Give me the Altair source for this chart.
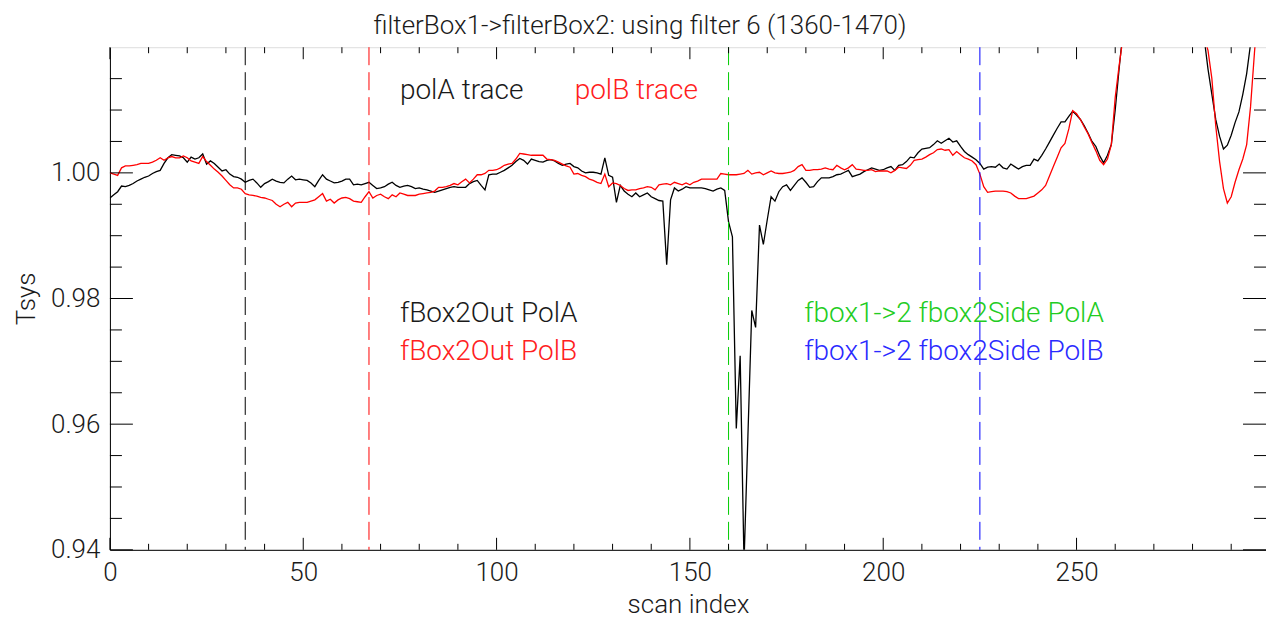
import altair as alt
import pandas as pd

# ---------------- data ----------------
scan_index = list(range(300))

polA = [
    0.9960, 0.9965, 0.9970, 0.9979, 0.9978, 0.9980, 0.9983, 0.9987, 0.9990, 0.9993,
    0.9995, 0.9999, 1.0002, 1.0004, 1.0015, 1.0024, 1.0029, 1.0028, 1.0027, 1.0024,
    1.0017, 1.0025, 1.0022, 1.0024, 1.0030, 1.0014, 1.0019, 1.0015, 1.0009, 1.0003,
    1.0005, 0.9998, 0.9994, 0.9993, 0.9990, 0.9985, 0.9988, 0.9990, 0.9984, 0.9977,
    0.9983, 0.9986, 0.9990, 0.9987, 0.9985, 0.9984, 0.9990, 0.9995, 0.9989, 0.9990,
    0.9989, 0.9988, 0.9984, 0.9978, 0.9988, 0.9997, 0.9990, 0.9987, 0.9984, 0.9985,
    0.9987, 0.9990, 0.9990, 0.9981, 0.9982, 0.9981, 0.9983, 0.9985, 0.9980, 0.9975,
    0.9976, 0.9978, 0.9982, 0.9985, 0.9980, 0.9977, 0.9979, 0.9980, 0.9978, 0.9975,
    0.9976, 0.9974, 0.9973, 0.9971, 0.9969, 0.9971, 0.9973, 0.9975, 0.9977, 0.9978,
    0.9977, 0.9977, 0.9977, 0.9983, 0.9986, 0.9988, 0.9980, 0.9973, 0.9997, 0.9998,
    0.9998, 1.0001, 1.0004, 1.0008, 1.0012, 1.0018, 1.0023, 1.0020, 1.0014, 1.0022,
    1.0020, 1.0018, 1.0017, 1.0020, 1.0021, 1.0019, 1.0015, 1.0012, 1.0014, 1.0015,
    1.0010, 1.0008, 1.0003, 1.0000, 1.0001, 1.0001, 1.0000, 0.9998, 1.0024, 0.9996,
    0.9993, 0.9953, 0.9980, 0.9971, 0.9966, 0.9962, 0.9968, 0.9962, 0.9965, 0.9968,
    0.9962, 0.9959, 0.9956, 0.9955, 0.9854, 0.9957, 0.9976, 0.9971, 0.9974, 0.9978,
    0.9976, 0.9976, 0.9976, 0.9976, 0.9975, 0.9973, 0.9971, 0.9974, 0.9976, 0.9972,
    0.9922, 0.9898, 0.9593, 0.9709, 0.9380, 0.9580, 0.9781, 0.9754, 0.9917, 0.9886,
    0.9925, 0.9962, 0.9955, 0.9970, 0.9978, 0.9981, 0.9972, 0.9980, 0.9988, 0.9992,
    0.9985, 0.9977, 0.9978, 0.9986, 0.9992, 0.9992, 0.9992, 0.9994, 0.9997, 0.9998,
    1.0001, 1.0004, 0.9994, 0.9996, 0.9998, 1.0002, 1.0005, 1.0008, 1.0006, 1.0004,
    1.0005, 1.0008, 1.0010, 1.0004, 1.0012, 1.0013, 1.0018, 1.0025, 1.0024, 1.0032,
    1.0038, 1.0039, 1.0040, 1.0045, 1.0051, 1.0047, 1.0051, 1.0055, 1.0049, 1.0051,
    1.0042, 1.0034, 1.0029, 1.0025, 1.0021, 1.0015, 1.0006, 1.0009, 1.0010, 1.0009,
    1.0014, 1.0008, 1.0006, 1.0014, 1.0010, 1.0006, 1.0010, 1.0012, 1.0012, 1.0022,
    1.0019, 1.0028, 1.0038, 1.0049, 1.0060, 1.0071, 1.0081, 1.0081, 1.0090, 1.0098,
    1.0092, 1.0085, 1.0075, 1.0063, 1.0050, 1.0042, 1.0027, 1.0016, 1.0028, 1.0045,
    1.0100, 1.0165, 1.0225, 1.0300, 1.0380, 1.0450, 1.0510, 1.0560, 1.0600, 1.0620,
    1.0630, 1.0620, 1.0600, 1.0570, 1.0530, 1.0490, 1.0450, 1.0410, 1.0370, 1.0340,
    1.0310, 1.0270, 1.0250, 1.0215, 1.0165, 1.0125, 1.0085, 1.0058, 1.0038, 1.0044,
    1.0060, 1.0080, 1.0097, 1.0125, 1.0158, 1.0205, 1.0260, 1.0350, 1.0450, 1.0550,
]

polB = [
    1.0000, 0.9998, 0.9996, 1.0008, 1.0011, 1.0011, 1.0012, 1.0013, 1.0015, 1.0015,
    1.0015, 1.0017, 1.0020, 1.0024, 1.0020, 1.0024, 1.0026, 1.0024, 1.0024, 1.0027,
    1.0024, 1.0019, 1.0017, 1.0015, 1.0026, 1.0018, 1.0012, 1.0006, 1.0001, 0.9995,
    0.9988, 0.9981, 0.9976, 0.9976, 0.9974, 0.9967, 0.9965, 0.9964, 0.9963, 0.9961,
    0.9960, 0.9958, 0.9956, 0.9950, 0.9946, 0.9950, 0.9953, 0.9946, 0.9952, 0.9953,
    0.9953, 0.9953, 0.9955, 0.9957, 0.9962, 0.9967, 0.9955, 0.9958, 0.9952, 0.9957,
    0.9960, 0.9961, 0.9959, 0.9955, 0.9954, 0.9953, 0.9962, 0.9970, 0.9960, 0.9964,
    0.9966, 0.9962, 0.9959, 0.9965, 0.9962, 0.9968, 0.9966, 0.9964, 0.9964, 0.9964,
    0.9966, 0.9967, 0.9968, 0.9969, 0.9971, 0.9977, 0.9977, 0.9978, 0.9980, 0.9983,
    0.9981, 0.9986, 0.9990, 0.9984, 0.9990, 0.9997, 0.9997, 0.9999, 1.0004, 1.0004,
    1.0005, 1.0008, 1.0012, 1.0014, 1.0015, 1.0022, 1.0031, 1.0030, 1.0029, 1.0028,
    1.0028, 1.0028, 1.0028, 1.0022, 1.0021, 1.0020, 1.0017, 1.0014, 1.0011, 1.0009,
    0.9998, 0.9999, 0.9996, 0.9994, 0.9990, 0.9988, 0.9985, 0.9983, 0.9998, 0.9978,
    0.9984, 0.9983, 0.9980, 0.9975, 0.9972, 0.9973, 0.9973, 0.9975, 0.9976, 0.9978,
    0.9977, 0.9973, 0.9981, 0.9982, 0.9983, 0.9981, 0.9985, 0.9983, 0.9981, 0.9984,
    0.9981, 0.9985, 0.9987, 0.9990, 0.9990, 0.9990, 0.9990, 0.9990, 0.9999, 0.9998,
    0.9997, 0.9997, 0.9997, 0.9998, 0.9999, 1.0004, 0.9998, 1.0000, 1.0001, 0.9997,
    1.0000, 1.0003, 1.0000, 0.9999, 0.9999, 1.0000, 1.0001, 1.0004, 1.0010, 1.0013,
    1.0004, 1.0004, 1.0005, 1.0005, 1.0006, 1.0008, 1.0006, 1.0005, 1.0012, 1.0008,
    1.0005, 1.0008, 1.0013, 1.0006, 1.0005, 1.0004, 1.0004, 1.0005, 1.0002, 1.0003,
    1.0003, 1.0003, 1.0000, 1.0004, 1.0009, 1.0008, 1.0007, 1.0012, 1.0020, 1.0021,
    1.0022, 1.0025, 1.0029, 1.0032, 1.0037, 1.0038, 1.0036, 1.0037, 1.0028, 1.0034,
    1.0029, 1.0024, 1.0022, 1.0019, 1.0013, 0.9998, 0.9978, 0.9969, 0.9970, 0.9971,
    0.9971, 0.9971, 0.9970, 0.9968, 0.9963, 0.9959, 0.9959, 0.9959, 0.9961, 0.9963,
    0.9968, 0.9973, 0.9980, 0.9995, 1.0010, 1.0025, 1.0040, 1.0047, 1.0070, 1.0099,
    1.0094, 1.0085, 1.0073, 1.0062, 1.0048, 1.0035, 1.0020, 1.0013, 1.0022, 1.0045,
    1.0120, 1.0170, 1.0215, 1.0290, 1.0370, 1.0440, 1.0500, 1.0550, 1.0590, 1.0610,
    1.0620, 1.0610, 1.0590, 1.0560, 1.0520, 1.0480, 1.0440, 1.0400, 1.0360, 1.0320,
    1.0290, 1.0260, 1.0230, 1.0215, 1.0195, 1.0150, 1.0075, 1.0018, 0.9975, 0.9952,
    0.9962, 0.9985, 1.0005, 1.0022, 1.0045, 1.0105, 1.0190, 1.0270, 1.0360, 1.0460,
]

marker_x = [35, 67, 160, 225]
marker_color = ["#000000", "#ff0000", "#00cc00", "#0000ff"]

label_text = ["polA trace", "polB trace", "fBox2Out PolA", "fBox2Out PolB",
              "fbox1->2 fbox2Side PolA", "fbox1->2 fbox2Side PolB"]
label_x = [75, 120.2, 75, 75, 179.6, 179.6]
label_y = [1.0118, 1.0118, 0.97628, 0.97024, 0.97628, 0.97024]
label_color = ["#1a1a1a", "#ff2020", "#1a1a1a", "#ff2020", "#22cc22", "#2a2aff"]

x_major = [0, 50, 100, 150, 200, 250]
x_minor = [10, 20, 30, 40, 60, 70, 80, 90, 110, 120, 130, 140, 160, 170, 180, 190,
           210, 220, 230, 240, 260, 270, 280, 290]
y_major = [0.94, 0.96, 0.98, 1.00]
y_minor = [0.945, 0.95, 0.955, 0.965, 0.97, 0.975, 0.985, 0.99, 0.995, 1.005, 1.01, 1.015]

# ---------------- chart ----------------
FONT = "Roboto Light, Open Sans Light, DejaVu Sans"
FS = 26      # tick labels and axis titles
FT = 28      # annotations
FTT = 26     # chart title
W, H = 1157, 503
TXT = "#1a1a1a"

xs = alt.Scale(domain=[0, 299], nice=False, zero=False)
ys = alt.Scale(domain=[0.94, 1.02], nice=False, zero=False)
XT = "scan index"
YT = "Tsys"

df = pd.DataFrame({
    "i": scan_index * 2,
    "v": polA + polB,
    "series": ["polA"] * len(polA) + ["polB"] * len(polB),
})

lines = alt.Chart(df).mark_line(strokeWidth=1.3, clip=True).encode(
    x=alt.X("i:Q", scale=xs, title=XT,
            axis=alt.Axis(values=x_major, ticks=False, grid=False, domainColor="black",
                          labelFlush=False,
                          labelFont=FONT, labelFontSize=FS, labelColor=TXT, labelPadding=10,
                          titleFont=FONT, titleFontSize=FS, titleFontWeight="normal",
                          titleColor=TXT, titleY=55, titleBaseline="middle")),
    y=alt.Y("v:Q", scale=ys, title=YT,
            axis=alt.Axis(values=y_major, format=".2f", ticks=False, grid=False,
                          domainColor="black", labelFlush=False,
                          labelFont=FONT, labelFontSize=FS, labelColor=TXT, labelPadding=10,
                          titleFont=FONT, titleFontSize=FS, titleFontWeight="normal",
                          titleColor=TXT, titleX=-83, titleBaseline="middle")),
    color=alt.Color("series:N", scale=alt.Scale(domain=["polA", "polB"],
                                               range=["#000000", "#ff0000"]), legend=None),
)

mk = pd.DataFrame({"i": marker_x, "c": marker_color})
markers = alt.Chart(mk).mark_rule(strokeWidth=1, strokeDash=[18, 7]).encode(
    x=alt.X("i:Q", scale=xs, title=XT),
    color=alt.Color("c:N", scale=None),
)

lab = pd.DataFrame({"i": label_x, "v": label_y, "t": label_text, "c": label_color})
labels = alt.Chart(lab).mark_text(align="left", baseline="alphabetic", font=FONT,
                                  fontSize=FT).encode(
    x=alt.X("i:Q", scale=xs, title=XT),
    y=alt.Y("v:Q", scale=ys, title=YT),
    text="t:N",
    color=alt.Color("c:N", scale=None),
)


def xticks(vals, length):
    d = pd.DataFrame({"i": vals})
    base = alt.Chart(d).mark_rule(color="black", strokeWidth=1)
    bottom = base.encode(x=alt.X("i:Q", scale=xs, title=XT),
                         y=alt.value(H), y2=alt.value(H - length))
    top = base.encode(x=alt.X("i:Q", scale=xs, title=XT),
                      y=alt.value(0), y2=alt.value(length))
    return [bottom, top]


def yticks(vals, length):
    d = pd.DataFrame({"v": vals})
    base = alt.Chart(d).mark_rule(color="black", strokeWidth=1)
    left = base.encode(y=alt.Y("v:Q", scale=ys, title=YT),
                       x=alt.value(0), x2=alt.value(length))
    right = base.encode(y=alt.Y("v:Q", scale=ys, title=YT),
                        x=alt.value(W), x2=alt.value(W - length))
    return [left, right]


tick_layers = xticks(x_major, 12) + xticks(x_minor, 6) + yticks(y_major, 23) + yticks(y_minor, 12)

chart = alt.layer(lines, markers, labels, *tick_layers).properties(
    width=W,
    height=H,
    title=alt.TitleParams(text="filterBox1->filterBox2: using filter 6 (1360-1470)",
                          font=FONT, fontSize=FTT, fontWeight="normal", color=TXT,
                          anchor="middle", dx=-48, offset=8),
    autosize=alt.AutoSizeParams(type="none"),
    padding={"left": 102, "top": 39, "right": 0, "bottom": 72},
).configure_view(stroke="black", strokeWidth=1).configure(background="white")

chart.save("out.html", embed_options={"renderer": "svg", "actions": False})
